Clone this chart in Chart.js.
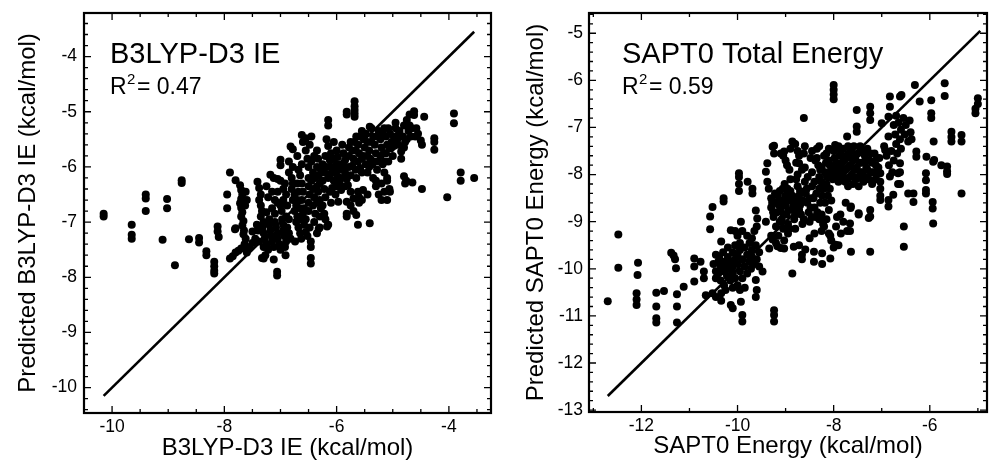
<!DOCTYPE html>
<html>
<head>
<title>Predicted vs computed interaction energies</title>
<script src="https://cdn.jsdelivr.net/npm/chart.js"></script>
<style>
  html, body { margin: 0; padding: 0; background: #fff; }
  .panel { position: absolute; top: 0; height: 465px; }
  #leftPanel { left: 0; width: 495px; }
  #rightPanel { left: 495px; width: 496px; }
</style>
</head>
<body>
<div class="panel" id="leftPanel"><canvas id="b3lypChart"></canvas></div>
<div class="panel" id="rightPanel"><canvas id="saptChart"></canvas></div>

<script>
const b3lypPoints = [
  [-10.15,-6.85],[-10.15,-6.9],[-9.65,-7.05],[-9.65,-7.23],[-9.65,-7.3],
  [-9.4,-6.5],[-9.4,-6.57],[-9.4,-6.8],[-9.1,-7.32],[-9.02,-6.58],[-9.02,-6.75],
  [-8.88,-7.78],[-8.76,-6.24],[-8.76,-6.29],[-8.63,-7.31],[-8.45,-7.29],[-8.45,-7.37],
  [-8.32,-7.53],[-8.32,-7.6],[-8.18,-7.72],[-8.18,-7.8],[-8.18,-7.88],[-8.18,-7.93],
  [-8.12,-7.08],[-8.12,-7.17],[-8.1,-7.27],[-7.95,-6.5],[-7.95,-6.75],[-7.9,-6.1],
  [-7.8,-6.24],[-7.8,-7.11],[-7.81,-7.13],
  [-7.72,-6.33],[-7.7,-6.42],[-7.68,-6.5],[-7.7,-6.58],[-7.72,-6.66],[-7.7,-6.74],[-7.68,-6.82],
  [-7.7,-6.9],[-7.66,-6.98],[-7.68,-7.06],[-7.65,-7.15],[-7.66,-7.22],[-7.62,-7.3],[-7.64,-7.4],
  [-7.6,-7.47],[-7.62,-6.45],[-7.6,-6.6],[-7.63,-6.7],
  [-7.9,-7.66],[-7.85,-7.62],[-7.8,-7.55],[-7.75,-7.52],[-7.7,-7.48],[-7.6,-7.55],[-7.55,-7.45],
  [-7.5,-7.38],[-7.5,-7.17],[-7.45,-7.3],
  [-7.41,-6.27],[-7.38,-6.38],[-7.35,-6.5],[-7.38,-6.6],[-7.35,-6.7],[-7.33,-6.8],
  [-7.27,-7.6],[-7.33,-7.65],[-7.3,-7.66],[-7.12,-7.68],[-7.06,-7.9],[-7.06,-7.97],[-6.91,-7.6],[-6.74,-7.35],
  [-7.18,-6.14],[-7.12,-6.2],[-7.05,-6.22],[-7.0,-6.25],[-7.0,-5.87],[-7.0,-5.97],[-6.82,-5.63],[-6.78,-5.68],
  [-7.35,-6.9],[-7.3,-7.0],[-7.32,-7.1],[-7.3,-7.2],[-7.28,-7.3],[-7.25,-7.4],[-7.22,-7.5],
  [-7.2,-6.95],[-7.2,-7.05],[-7.18,-7.15],[-7.16,-7.25],[-7.15,-7.35],[-7.12,-7.45],[-7.1,-6.85],
  [-7.1,-7.0],[-7.08,-7.1],[-7.05,-7.2],[-7.05,-7.3],[-7.02,-7.4],[-7.0,-7.5],[-6.98,-6.8],
  [-6.97,-6.95],[-6.95,-7.05],[-6.95,-7.15],[-6.93,-7.25],[-6.9,-7.35],[-6.92,-7.45],[-7.25,-6.82],
  [-7.15,-6.75],[-7.05,-6.65],[-7.0,-6.7],[-6.95,-6.6],[-6.9,-6.9],[-7.4,-7.15],[-7.42,-7.05],
  [-7.38,-7.35],[-7.3,-7.45],[-6.88,-7.1],[-6.85,-7.2],[-6.82,-7.3],
  [-7.25,-6.35],[-7.22,-6.55],[-7.15,-6.45],[-7.1,-6.6],[-7.05,-6.45],
  [-6.85,-6.1],[-6.8,-6.2],[-6.78,-6.3],[-6.8,-6.4],[-6.75,-6.5],[-6.78,-6.6],[-6.72,-6.7],
  [-6.75,-6.8],[-6.7,-6.9],[-6.72,-7.0],[-6.68,-7.1],[-6.65,-7.2],[-6.65,-6.15],[-6.62,-6.3],
  [-6.6,-6.45],[-6.62,-6.6],[-6.58,-6.75],[-6.6,-6.85],[-6.55,-6.95],[-6.58,-7.05],[-6.55,-7.18],
  [-6.52,-7.25],[-6.63,-7.3],
  [-6.95,-6.4],[-6.9,-6.5],[-6.92,-6.3],[-6.88,-6.7],[-6.85,-6.95],[-6.7,-6.3],[-6.68,-6.45],
  [-6.7,-6.6],[-6.65,-6.75],[-6.65,-6.95],[-6.5,-6.2],[-6.5,-6.35],[-6.48,-6.5],[-6.5,-6.65],
  [-6.5,-6.8],[-6.48,-7.1],[-6.85,-5.9],[-6.78,-6.0],[-6.7,-5.8],[-6.68,-6.05],[-6.62,-5.95],
  [-6.62,-5.42],[-6.6,-5.55],[-6.55,-5.48],[-6.55,-5.7],[-6.52,-5.85],[-6.5,-6.0],[-6.48,-5.6],
  [-6.45,-5.45],[-6.45,-5.9],[-6.42,-6.1],[-6.45,-6.25],[-6.42,-6.4],[-6.4,-6.55],[-6.42,-6.7],
  [-6.38,-6.85],[-6.4,-7.0],[-6.35,-5.7],[-6.33,-5.85],[-6.35,-6.0],[-6.32,-6.15],[-6.3,-6.3],
  [-6.33,-6.45],[-6.3,-6.6],[-6.28,-6.75],[-6.3,-6.9],[-6.25,-5.95],[-6.22,-6.1],[-6.25,-6.25],
  [-6.22,-6.4],[-6.2,-6.55],[-6.25,-6.7],[-6.22,-6.85],[-6.15,-7.05],[-6.17,-7.08],[-6.3,-7.1],
  [-6.32,-7.12],[-6.35,-7.2],
  [-6.4,-5.8],[-6.38,-6.2],[-6.35,-6.35],[-6.35,-6.65],[-6.28,-6.05],[-6.2,-5.8],[-6.18,-6.0],
  [-6.15,-6.2],[-6.12,-6.45],[-6.1,-6.65],[-6.2,-6.95],
  [-6.46,-7.35],[-6.46,-7.45],[-6.46,-7.65],[-6.46,-7.75],[-6.15,-5.15],[-6.15,-5.25],
  [-6.18,-5.5],[-6.15,-5.62],[-6.1,-5.75],[-6.12,-5.88],[-6.08,-6.0],[-6.1,-6.12],[-6.05,-6.25],
  [-6.08,-6.38],[-6.02,-6.5],[-6.0,-5.7],[-5.98,-5.82],[-6.0,-5.95],[-5.95,-6.05],[-5.98,-6.18],
  [-5.95,-6.3],[-5.92,-6.42],[-5.9,-5.6],[-5.88,-5.75],[-5.85,-5.88],[-5.88,-6.0],[-5.85,-6.1],
  [-5.82,-6.22],[-5.85,-6.35],[-6.05,-5.55],[-5.97,-6.63],
  [-6.05,-5.85],[-6.02,-6.1],[-6.0,-6.35],[-5.92,-5.95],[-5.9,-6.2],
  [-5.82,-5.0],[-5.82,-5.05],[-5.68,-4.81],[-5.68,-4.9],[-5.68,-4.97],[-5.68,-5.03],[-5.68,-5.09],
  [-5.82,-6.63],[-5.82,-6.85],[-5.82,-6.9],[-5.75,-6.7],[-5.7,-6.8],[-5.65,-6.87],[-5.62,-7.05],[-5.41,-7.02],
  [-5.8,-6.33],[-5.75,-6.45],[-5.7,-6.57],[-5.62,-6.45],[-5.6,-6.55],[-5.6,-6.65],[-5.55,-6.6],
  [-5.53,-6.42],[-5.45,-6.5],
  [-5.75,-5.55],[-5.72,-5.7],[-5.7,-5.85],[-5.72,-5.98],[-5.65,-5.45],[-5.62,-5.6],[-5.6,-5.75],
  [-5.62,-5.9],[-5.58,-6.02],[-5.55,-5.35],[-5.52,-5.5],[-5.5,-5.65],[-5.52,-5.8],[-5.48,-5.95],
  [-5.45,-5.55],[-5.42,-5.7],[-5.4,-5.85],[-5.42,-6.0],[-5.38,-5.3],[-5.35,-5.45],[-5.32,-5.6],
  [-5.3,-5.75],[-5.33,-5.9],[-5.28,-6.05],[-5.25,-5.35],[-5.22,-5.5],[-5.2,-5.65],[-5.22,-5.8],
  [-5.18,-5.95],[-5.15,-5.3],[-5.12,-5.45],[-5.1,-5.6],[-5.12,-5.75],[-5.08,-5.9],[-5.05,-5.4],
  [-5.02,-5.55],[-5.03,-5.66],[-5.0,-5.8],[-4.95,-5.3],[-4.98,-5.45],[-5.41,-5.27],
  [-5.78,-5.65],[-5.78,-5.8],[-5.78,-6.0],[-5.75,-6.15],[-5.68,-5.55],[-5.66,-5.7],[-5.66,-6.05],
  [-5.65,-6.2],[-5.58,-5.45],[-5.55,-5.85],[-5.55,-6.1],[-5.48,-5.4],[-5.45,-5.8],[-5.45,-6.1],
  [-5.38,-5.55],[-5.36,-5.95],[-5.28,-5.45],[-5.26,-5.9],[-5.18,-5.4],[-5.16,-5.75],[-5.14,-5.9],
  [-5.08,-5.3],[-5.06,-5.65],[-4.98,-5.62],[-4.95,-5.2],[-4.9,-5.42],[-4.75,-5.5],[-4.7,-5.25],
  [-4.58,-5.3],
  [-5.35,-6.2],[-5.3,-6.35],[-5.3,-6.25],[-5.25,-6.5],[-5.2,-6.3],[-5.2,-6.6],[-5.15,-6.45],
  [-5.1,-6.6],[-5.06,-6.4],[-5.1,-6.2],[-5.15,-6.1],[-5.1,-6.25],[-5.05,-6.45],
  [-4.92,-5.5],[-4.9,-5.6],[-4.88,-5.35],[-4.85,-5.72],[-4.82,-5.45],[-4.8,-5.25],[-4.78,-5.55],
  [-4.75,-5.15],[-4.72,-5.35],[-4.7,-5.05],[-4.68,-5.45],[-4.66,-5.3],[-4.62,-4.99],[-4.62,-5.06],
  [-4.6,-5.45],[-4.55,-5.4],[-4.5,-5.52],[-4.48,-5.6],[-4.44,-5.09],[-4.85,-5.85],[-4.8,-5.65],
  [-4.26,-5.48],[-4.26,-5.55],[-4.26,-5.69],[-3.91,-5.03],[-3.91,-5.21],
  [-4.8,-6.17],[-4.76,-6.25],[-4.78,-6.3],[-4.65,-6.28],[-4.48,-6.4],[-4.03,-6.55],
  [-3.79,-6.1],[-3.79,-6.25],[-3.55,-6.2]
];

const saptPoints = [
  [-12.7,-10.69],[-12.48,-9.27],[-12.48,-9.98],[-12.07,-9.87],[-12.08,-10.13],[-12.1,-10.52],
  [-12.1,-10.65],[-12.1,-10.77],[-11.69,-10.51],[-11.69,-10.8],[-11.69,-11.05],[-11.69,-11.14],
  [-11.53,-10.47],[-11.38,-9.66],[-11.33,-9.72],[-11.3,-9.8],[-11.28,-9.99],[-11.26,-10.54],
  [-11.26,-10.8],[-11.26,-11.14],[-11.12,-10.38],[-10.9,-9.78],[-10.9,-9.95],[-10.9,-10.27],
  [-10.77,-9.85],[-10.7,-10.06],[-10.7,-10.2],[-10.66,-10.56],[-10.57,-8.89],[-10.57,-9.16],
  [-10.52,-8.69],[-10.52,-10.52],[-10.29,-8.5],[-10.29,-8.57],[-10.34,-9.42],[-10.34,-10.52],
  [-10.34,-10.68],[-10.45,-10.6],[-10.14,-10.77],[-10.1,-10.84],[-9.93,-10.7],[-9.9,-10.98],
  [-9.9,-11.12],[-9.97,-7.97],[-9.97,-8.05],[-9.97,-8.2],[-9.97,-8.35],[-9.79,-8.15],[-9.69,-8.3],
  [-9.69,-8.4],[-9.62,-8.76],[-9.59,-8.93],[-9.62,-10.24],[-9.6,-10.45],[-9.62,-10.6],
  [-9.48,-10.06],[-9.24,-10.88],[-9.24,-10.98],[-9.24,-11.12],
  [-10.5,-9.9],[-10.45,-10.05],[-10.45,-10.2],[-10.4,-9.85],[-10.4,-10.1],[-10.38,-9.75],
  [-10.35,-9.95],[-10.35,-10.25],[-10.3,-9.65],[-10.3,-9.85],[-10.3,-10.05],[-10.28,-10.35],
  [-10.25,-9.9],[-10.22,-10.15],[-10.2,-9.55],[-10.2,-9.75],[-10.2,-10.0],[-10.15,-9.85],
  [-10.15,-10.25],[-10.1,-9.65],[-10.1,-9.95],[-10.1,-10.1],[-10.05,-9.5],[-10.05,-9.8],
  [-10.05,-10.2],[-10.0,-9.7],[-10.0,-9.9],[-10.0,-10.35],[-9.95,-9.45],[-9.95,-9.6],
  [-9.95,-10.05],[-9.9,-9.8],[-9.9,-10.2],[-9.85,-9.55],[-9.85,-9.95],[-9.85,-10.4],[-9.8,-9.7],
  [-9.8,-10.1],[-9.75,-9.45],[-9.75,-9.85],[-9.72,-10.0],[-9.7,-9.6],[-9.7,-9.75],[-9.65,-9.9],
  [-9.62,-9.5],[-9.6,-9.8],[-9.55,-9.65],[-9.55,-9.95],[-10.45,-9.7],[-10.25,-10.45],
  [-10.1,-10.4],[-9.95,-10.45],[-10.14,-9.18],[-10.05,-9.2],[-9.9,-9.2],[-9.93,-9.0],[-10.0,-9.3],
  [-9.8,-9.3],[-9.7,-9.35],[-9.65,-9.2],[-9.6,-9.1],
  [-9.35,-8.3],[-9.3,-8.5],[-9.3,-8.7],[-9.25,-8.9],[-9.22,-8.4],[-9.2,-8.6],[-9.2,-9.1],
  [-9.18,-8.8],[-9.15,-9.3],[-9.12,-8.35],[-9.1,-8.55],[-9.1,-8.75],[-9.08,-8.95],[-9.05,-9.15],
  [-9.05,-7.6],[-9.02,-8.2],[-9.0,-8.45],[-9.0,-8.65],[-8.98,-8.85],[-8.95,-9.05],[-8.95,-9.25],
  [-8.92,-7.9],[-8.9,-8.1],[-8.9,-8.35],[-8.88,-8.55],[-8.85,-8.75],[-8.82,-8.95],[-8.8,-9.15],
  [-8.8,-7.35],[-8.78,-7.75],[-8.75,-8.0],[-8.75,-8.25],[-8.72,-8.45],[-8.7,-8.65],[-8.68,-8.85],
  [-8.65,-9.05],[-8.62,-7.55],[-8.6,-7.85],[-8.6,-8.15],[-8.58,-8.4],[-8.55,-8.6],[-8.52,-8.8],
  [-8.5,-9.0],[-8.48,-7.65],[-8.45,-7.95],[-8.45,-8.25],[-8.42,-8.5],[-8.4,-8.7],[-8.38,-8.9],
  [-8.35,-7.45],[-8.32,-7.8],[-8.3,-8.05],[-8.3,-8.3],[-8.28,-8.6],[-8.25,-8.85],[-8.22,-9.05],
  [-8.2,-7.6],[-8.18,-7.95],[-8.15,-8.2],[-8.12,-8.45],[-8.1,-8.75],
  [-9.28,-8.6],[-9.26,-8.8],[-9.16,-8.45],[-9.14,-8.65],[-9.12,-9.0],[-9.06,-8.3],[-9.04,-8.85],
  [-8.98,-8.55],[-8.96,-8.3],[-8.94,-8.75],[-8.92,-9.15],[-8.86,-8.45],[-8.84,-8.65],[-8.8,-8.85],
  [-8.78,-8.1],[-8.74,-8.55],[-8.72,-8.75],[-8.7,-8.35],[-8.66,-7.9],[-8.64,-8.55],[-8.62,-8.95],
  [-8.56,-8.3],[-8.54,-8.05],[-8.5,-8.5],[-8.48,-8.7],[-8.46,-8.9],[-8.4,-8.15],[-8.38,-7.7],
  [-8.36,-8.4],[-8.34,-8.8],[-8.28,-7.9],[-8.26,-8.15],[-8.24,-8.45],[-8.2,-8.3],[-8.18,-8.6],
  [-8.16,-7.75],[-8.14,-8.05],[-8.08,-8.3],[-8.05,-8.55],
  [-9.38,-7.76],[-9.41,-7.94],[-9.38,-8.15],[-9.24,-7.39],[-9.24,-7.55],[-9.1,-7.55],[-9.3,-9.3],
  [-9.34,-9.57],[-9.41,-9.0],[-9.2,-9.45],[-9.27,-7.41],[-8.86,-7.3],[-9.03,-7.51],[-8.72,-7.6],
  [-8.72,-7.76],[-8.9,-7.45],[-8.75,-7.5],[-8.6,-7.4],[-8.45,-7.5],[-8.3,-7.4],[-8.83,-7.34],
  [-9.0,-7.7],[-8.97,-7.8],
  [-8.1,-7.7],[-8.05,-7.9],[-8.02,-8.1],[-8.0,-7.5],[-7.95,-7.75],[-7.92,-7.95],[-7.9,-8.15],
  [-7.88,-7.6],[-7.85,-7.85],[-7.82,-8.05],[-7.8,-7.45],[-7.78,-7.7],[-7.75,-7.9],[-7.72,-8.1],
  [-7.7,-8.25],[-7.68,-7.55],[-7.65,-7.8],[-7.62,-8.0],[-7.6,-8.2],[-7.58,-7.4],[-7.55,-7.65],
  [-7.52,-7.85],[-7.5,-8.05],[-7.48,-8.25],[-7.45,-7.5],[-7.42,-7.75],[-7.4,-7.95],[-7.38,-8.15],
  [-7.35,-7.6],[-7.32,-7.85],[-7.3,-8.05],[-7.25,-7.7],[-7.22,-7.95],[-7.2,-8.2],[-7.15,-7.55],
  [-7.12,-7.8],[-7.1,-8.0],[-7.05,-7.65],[-7.03,-7.97],[-7.03,-8.15],[-7.03,-8.3],[-7.03,-8.45],
  [-7.03,-8.54],[-8.35,-7.65],[-8.25,-7.85],
  [-8.15,-7.55],[-8.08,-7.8],[-8.05,-8.0],[-7.98,-7.65],[-7.95,-7.85],[-7.9,-8.05],[-7.85,-7.5],
  [-7.83,-7.75],[-7.8,-7.95],[-7.76,-8.15],[-7.73,-7.6],[-7.7,-7.85],[-7.67,-8.05],[-7.63,-7.5],
  [-7.6,-7.7],[-7.57,-7.9],[-7.54,-8.1],[-7.5,-7.55],[-7.47,-7.75],[-7.44,-7.95],[-7.4,-8.1],
  [-7.37,-7.5],[-7.34,-7.7],[-7.3,-7.9],[-7.27,-8.1],[-7.23,-7.55],[-7.2,-7.75],[-7.17,-7.95],
  [-7.13,-8.1],[-7.1,-7.65],[-7.07,-7.85],[-8.1,-7.45],[-7.9,-7.4],[-7.7,-7.4],[-7.45,-7.4],
  [-7.3,-7.45],
  [-8.3,-8.95],[-8.25,-9.2],[-8.2,-9.1],[-8.15,-8.95],[-8.1,-9.25],[-8.05,-9.4],[-8.0,-9.55],
  [-7.95,-9.1],[-7.9,-9.5],[-7.93,-8.9],[-7.85,-9.25],[-7.8,-9.0],[-7.75,-8.6],[-7.72,-9.2],
  [-7.64,-8.68],[-7.66,-9.04],[-7.66,-9.2],[-7.64,-9.64],[-7.48,-8.82],[-8.07,-9.78],[-8.4,-9.25],
  [-7.86,-8.85],[-7.65,-8.71],[-7.48,-8.85],[-7.27,-8.92],[-7.96,-9.49],[-8.07,-9.3],
  [-8.86,-10.1],[-8.83,-9.53],[-8.72,-9.5],[-8.66,-9.7],[-8.66,-9.8],[-8.5,-9.35],[-8.41,-9.64],
  [-8.41,-9.85],[-8.24,-9.67],[-8.24,-9.9],[-9.03,-9.4],[-9.03,-9.57],[-9.1,-9.56],[-8.59,-9.59],
  [-9.27,-9.38],[-9.17,-9.52],
  [-8.62,-6.8],[-8.0,-6.1],[-8.0,-6.2],[-8.0,-6.3],[-8.0,-6.4],[-7.97,-7.37],[-7.72,-7.19],
  [-7.52,-6.63],[-7.52,-6.98],[-7.52,-7.09],[-7.24,-6.56],[-7.24,-6.7],[-7.24,-6.84],
  [-7.24,-8.75],[-7.24,-8.89],[-7.24,-9.64],
  [-6.95,-7.4],[-6.9,-7.6],[-6.85,-7.8],[-6.8,-7.5],[-6.78,-7.95],[-6.75,-7.7],[-6.7,-7.35],
  [-6.68,-7.55],[-6.62,-7.25],[-6.6,-7.45],[-6.7,-6.75],[-6.65,-6.9],[-6.6,-7.05],[-6.55,-6.8],
  [-6.52,-7.15],[-6.5,-6.95],[-6.45,-7.3],[-6.42,-6.85],[-6.4,-7.1],[-6.38,-7.25],[-6.72,-7.15],
  [-6.75,-6.95],[-6.66,-7.97],[-6.66,-8.2],[-6.76,-8.43],[-6.86,-8.54],[-6.86,-8.68],
  [-6.83,-8.04],[-6.93,-7.48],[-6.86,-7.19],[-6.83,-6.34],[-6.83,-6.56],[-6.86,-6.77],
  [-7.0,-6.91],[-6.62,-6.34],[-6.59,-6.31],
  [-6.54,-9.1],[-6.54,-9.53],[-6.45,-8.4],[-6.31,-6.1],[-6.21,-6.45],[-6.28,-7.51],[-6.28,-7.62],
  [-6.34,-8.4],[-6.34,-8.58],[-6.07,-7.62],[-6.08,-7.97],[-6.08,-8.12],[-6.08,-8.33],[-6.08,-8.4],
  [-5.97,-6.42],[-5.97,-6.7],[-5.97,-6.8],[-5.93,-7.73],[-5.92,-7.3],[-5.94,-8.58],[-5.94,-8.72],
  [-5.93,-9.04],[-5.76,-7.8],[-5.69,-6.06],[-5.69,-6.33],[-5.64,-7.83],[-5.64,-7.93],
  [-5.64,-7.99],[-5.55,-7.09],[-5.55,-7.2],[-5.55,-7.3],[-5.34,-7.16],[-5.34,-7.3],[-5.34,-8.4],
  [-5.05,-6.6],[-5.05,-6.7],[-5.0,-6.38],[-5.0,-6.5],[-6.62,-7.76],[-6.62,-7.95],[-6.62,-8.2],
  [-5.91,-7.69]
];

// y = x reference lines
const b3lypParity = [[-10.15,-10.15],[-3.55,-3.55]];
const saptParity = [[-12.7,-12.7],[-4.95,-4.95]];

// labelled tick values
const b3lypXTicks = [-10, -8, -6, -4];
const b3lypYTicks = [-10, -9, -8, -7, -6, -5, -4];
const saptXTicks = [-12, -10, -8, -6];
const saptYTicks = [-13, -12, -11, -10, -9, -8, -7, -6, -5];

const FONT = '"Liberation Sans", Arial, Helvetica, sans-serif';

function toXY(pairs) {
  return pairs.map(p => ({ x: p[0], y: p[1] }));
}

// box frame, inward ticks on all four sides, and the label in the corner
const frameTicks = {
  id: 'frameTicks',
  afterDraw(chart, args, opts) {
    const { ctx, chartArea: a } = chart;
    ctx.save();
    ctx.strokeStyle = '#000';
    ctx.lineWidth = 1.3;
    ctx.beginPath();
    const mark = (scale, step, major, horiz) => {
      const n0 = Math.ceil(scale.min / step - 1e-6);
      const n1 = Math.floor(scale.max / step + 1e-6);
      for (let k = n0; k <= n1; k++) {
        const v = k * step;
        const isMajor = Math.abs(v / major - Math.round(v / major)) < 1e-6;
        const len = isMajor ? 7 : 4;
        const p = scale.getPixelForValue(v);
        if (horiz) {
          ctx.moveTo(p, a.bottom); ctx.lineTo(p, a.bottom - len);
          ctx.moveTo(p, a.top); ctx.lineTo(p, a.top + len);
        } else {
          ctx.moveTo(a.left, p); ctx.lineTo(a.left + len, p);
          ctx.moveTo(a.right, p); ctx.lineTo(a.right - len, p);
        }
      }
    };
    mark(chart.scales.x, opts.xMinor, opts.xMajor, true);
    mark(chart.scales.y, opts.yMinor, opts.yMajor, false);
    ctx.stroke();

    ctx.lineWidth = 2.2;
    ctx.strokeRect(a.left, a.top, a.right - a.left, a.bottom - a.top);

    // panel label and R^2 (superscript drawn smaller and raised)
    ctx.fillStyle = '#000';
    ctx.textBaseline = 'alphabetic';
    ctx.textAlign = 'left';
    let x0 = a.left + opts.dx;
    ctx.font = '29px ' + FONT;
    ctx.fillText(opts.title, x0, 63);
    ctx.font = '23px ' + FONT;
    ctx.fillText('R', x0, 94);
    x0 += ctx.measureText('R').width;
    ctx.font = '15px ' + FONT;
    ctx.fillText('2', x0 + 0.5, 84);
    x0 += ctx.measureText('2').width + 2;
    ctx.font = '23px ' + FONT;
    ctx.fillText('= ' + opts.r2, x0, 94);
    ctx.restore();
  }
};

function makePanel(id, p) {
  const ctx = document.getElementById(id).getContext('2d');
  return new Chart(ctx, {
    type: 'scatter',
    data: {
      datasets: [{
        data: toXY(p.parity),
        showLine: true,
        borderColor: '#000',
        borderWidth: 2.6,
        pointRadius: 0
      }, {
        data: toXY(p.points),
        pointRadius: 4,
        pointBackgroundColor: '#000',
        pointBorderWidth: 0
      }]
    },
    options: {
      responsive: true,
      maintainAspectRatio: false,
      animation: false,
      layout: { padding: { top: 13, right: p.padRight, left: 0, bottom: 0 } },
      plugins: {
        legend: { display: false },
        tooltip: { enabled: false },
        frameTicks: p.frame
      },
      scales: {
        x: {
          type: 'linear',
          min: p.xMin, max: p.xMax,
          grid: { display: false, drawTicks: false },
          border: { display: false },
          afterBuildTicks: s => { s.ticks = p.xTicks.map(v => ({ value: v })); },
          afterFit: s => { s.height = p.xHeight; s.paddingLeft = 0; s.paddingRight = 0; },
          ticks: { color: '#000', font: { family: FONT, size: 17.5 }, padding: 4, autoSkip: false, maxRotation: 0 },
          title: { display: true, text: p.xTitle, color: '#000', font: { family: FONT, size: 24 }, padding: { top: 0, bottom: p.xTitlePad } }
        },
        y: {
          type: 'linear',
          min: p.yMin, max: p.yMax,
          grid: { display: false, drawTicks: false },
          border: { display: false },
          afterBuildTicks: s => { s.ticks = p.yTicks.map(v => ({ value: v })); },
          afterFit: s => { s.width = p.yWidth; s.paddingTop = 0; s.paddingBottom = 0; },
          ticks: { color: '#000', font: { family: FONT, size: 17.5 }, padding: p.yTickPad, autoSkip: false },
          title: { display: true, text: p.yTitle, color: '#000', font: { family: FONT, size: 24 }, padding: { top: p.yTitlePad, bottom: 0 } }
        }
      }
    },
    plugins: [frameTicks]
  });
}

makePanel('b3lypChart', {
  points: b3lypPoints,
  parity: b3lypParity,
  xMin: -10.5, xMax: -3.25, yMin: -10.46, yMax: -3.21,
  xTicks: b3lypXTicks, yTicks: b3lypYTicks,
  xTitle: 'B3LYP-D3 IE (kcal/mol)',
  yTitle: 'Predicted B3LYP-D3 IE (kcal/mol)',
  yWidth: 84, xHeight: 52, padRight: 1,
  yTickPad: 7, yTitlePad: 13.6, xTitlePad: 2.5,
  frame: { title: 'B3LYP-D3 IE', r2: '0.47', dx: 26, xMinor: 0.5, xMajor: 2, yMinor: 0.2, yMajor: 1 }
});

makePanel('saptChart', {
  points: saptPoints,
  parity: saptParity,
  xMin: -13.09, xMax: -4.81, yMin: -13.04, yMax: -4.57,
  xTicks: saptXTicks, yTicks: saptYTicks,
  xTitle: 'SAPT0 Energy (kcal/mol)',
  yTitle: 'Predicted SAPT0 Energy (kcal/mol)',
  yWidth: 94, xHeight: 53, padRight: 2,
  yTickPad: 6, yTitlePad: 26.6, xTitlePad: 4.5,
  frame: { title: 'SAPT0 Total Energy', r2: '0.59', dx: 33, xMinor: 1, xMajor: 2, yMinor: 0.2, yMajor: 1 }
});
</script>
</body>
</html>
